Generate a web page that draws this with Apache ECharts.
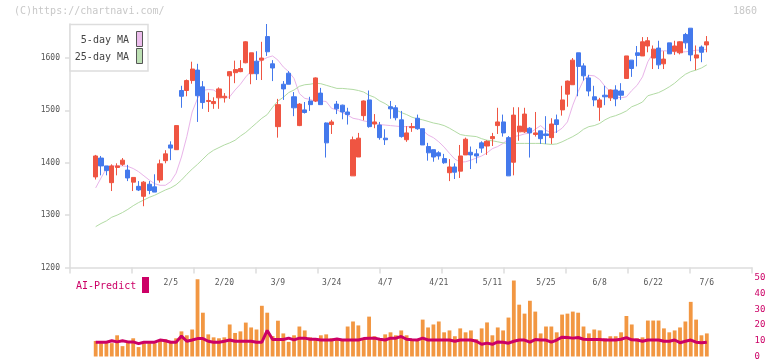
<!DOCTYPE html>
<html>
<head>
<meta charset="utf-8">
<script src="https://cdn.jsdelivr.net/npm/echarts@6/dist/echarts.min.js"></script>
<style>
  html, body { margin: 0; padding: 0; background: #fff; }
  #chart { width: 772px; height: 361px; }
</style>
</head>
<body>
<div id="chart"></div>
<script>
// 日足 (115本) 始値/終値/安値/高値
const open = [1373,1409,1394,1362,1391,1397,1386,1363,1355,1336,1359,1354,1367,1404,1434,1425,1538,1538,1557,1577,1545,1517,1513,1524,1524,1566,1572,1574,1591,1570,1594,1596,1641,1589,1469,1550,1571,1526,1471,1501,1518,1518,1533,1476,1473,1512,1510,1497,1375,1411,1490,1520,1474,1472,1447,1507,1505,1482,1444,1467,1485,1465,1431,1425,1419,1408,1381,1392,1384,1415,1420,1417,1438,1432,1446,1471,1478,1448,1401,1459,1459,1466,1454,1461,1455,1448,1482,1501,1531,1549,1610,1585,1562,1526,1506,1529,1524,1539,1537,1561,1596,1610,1604,1623,1600,1619,1589,1629,1613,1610,1645,1657,1600,1621,1625];
const close = [1413,1394,1385,1394,1394,1405,1371,1372,1348,1363,1347,1344,1398,1417,1428,1471,1527,1557,1579,1528,1515,1519,1517,1541,1527,1574,1578,1580,1631,1610,1570,1600,1612,1581,1511,1541,1550,1505,1512,1496,1511,1562,1511,1438,1478,1503,1497,1492,1444,1447,1518,1469,1478,1448,1444,1503,1486,1450,1457,1469,1465,1434,1419,1411,1413,1400,1392,1382,1413,1445,1415,1413,1428,1441,1450,1478,1457,1375,1491,1470,1493,1457,1457,1446,1452,1474,1473,1520,1556,1596,1584,1566,1537,1520,1520,1526,1539,1522,1529,1604,1580,1605,1631,1633,1617,1587,1598,1608,1623,1631,1629,1606,1606,1611,1631];
const low = [1368,1376,1376,1346,1376,1394,1365,1346,1346,1317,1340,1344,1362,1399,1405,1425,1505,1527,1551,1478,1503,1497,1503,1503,1515,1522,1552,1573,1590,1550,1558,1558,1604,1556,1448,1520,1550,1489,1470,1494,1499,1516,1511,1410,1455,1493,1483,1473,1375,1411,1481,1467,1466,1444,1434,1484,1481,1448,1440,1459,1463,1434,1404,1402,1406,1398,1365,1369,1371,1415,1388,1399,1419,1415,1432,1455,1450,1375,1376,1442,1457,1410,1450,1436,1436,1436,1457,1490,1507,1549,1527,1557,1527,1508,1480,1510,1518,1508,1520,1561,1564,1584,1604,1611,1579,1579,1579,1608,1606,1607,1618,1594,1577,1592,1611];
const high = [1415,1413,1394,1397,1399,1409,1396,1372,1365,1365,1365,1378,1406,1424,1441,1472,1547,1559,1593,1589,1556,1534,1525,1544,1533,1575,1595,1596,1632,1610,1613,1631,1665,1596,1522,1556,1575,1535,1514,1516,1526,1563,1543,1477,1482,1518,1511,1505,1450,1457,1519,1538,1493,1478,1464,1518,1510,1499,1470,1476,1492,1465,1438,1425,1422,1417,1407,1399,1434,1448,1431,1426,1441,1443,1457,1505,1492,1451,1506,1506,1505,1468,1497,1461,1489,1485,1492,1547,1557,1600,1610,1590,1568,1547,1524,1547,1540,1548,1552,1604,1596,1623,1640,1640,1624,1633,1613,1629,1633,1632,1648,1657,1624,1624,1642];

// 移動平均 (チャートから読み取り)
const ma5 = [1352,1371,1389,1394,1394,1394,1393,1389,1383,1375,1367,1360,1357,1357,1364,1380,1411,1450,1497,1523,1538,1540,1539,1532,1524,1526,1539,1550,1564,1575,1590,1596,1601,1604,1596,1583,1574,1561,1532,1523,1521,1517,1518,1517,1504,1501,1496,1491,1485,1483,1480,1478,1476,1473,1472,1471,1470,1469,1469,1469,1469,1462,1453,1448,1440,1430,1418,1407,1401,1402,1405,1409,1413,1419,1427,1431,1437,1446,1450,1452,1455,1457,1464,1471,1462,1457,1459,1466,1478,1510,1536,1558,1567,1566,1559,1546,1536,1526,1524,1526,1538,1548,1564,1593,1610,1613,1614,1613,1612,1611,1612,1613,1615,1615,1617];
const ma25 = [1278,1284,1289,1296,1300,1305,1311,1318,1324,1329,1334,1338,1343,1348,1352,1358,1367,1378,1388,1397,1407,1417,1424,1429,1434,1438,1443,1451,1458,1467,1476,1485,1492,1506,1518,1525,1534,1539,1546,1549,1550,1552,1551,1548,1545,1542,1542,1541,1540,1538,1535,1529,1525,1518,1513,1506,1501,1496,1492,1487,1484,1482,1479,1476,1474,1471,1466,1460,1454,1452,1451,1450,1446,1443,1442,1440,1438,1437,1437,1437,1437,1437,1437,1437,1436,1435,1436,1440,1445,1450,1456,1464,1469,1471,1475,1482,1487,1490,1494,1499,1507,1511,1516,1528,1531,1534,1539,1545,1552,1561,1569,1574,1577,1581,1587];

// 出来高 と AI-Predict
const volume = [9.9,8.5,8.5,8.5,13.5,6.6,9.9,11.6,6,8.5,8.5,8.5,9.9,11,9.9,11.6,16,13.5,17.2,49.2,27.9,14.1,12.2,11.6,12.2,20.4,15,16,21.6,18.5,17.2,32.3,27.9,13,22.8,14.7,9.3,13.5,19.1,16.6,12.2,11.6,13.5,14.1,11.6,11.6,11,19.1,22.3,19.8,11,25.4,12.9,11,14.1,15.4,13.5,16.6,13.5,11,10.4,23.5,18.5,20.4,22.3,15.4,16.6,12.9,17.9,15.4,16.6,11,17.9,21.7,13.5,18.5,16.6,24.8,48.4,33,27.3,35.5,28.6,14.7,19.1,19.1,15.4,26.7,27.3,28.6,27.9,19.1,14.7,17.2,16.6,11.6,12.9,12.9,15.4,25.8,20.4,11.6,12.2,22.9,22.9,22.9,17.9,15.4,16.6,18.5,22.3,34.8,23.5,13.5,14.7];
const aiPredict = [9.1,9.1,9.1,10,9.3,10,9.3,9.3,8.2,9.1,9.1,9.1,10.5,10,9.1,9.1,13,9.7,10.5,11.4,11.4,9.7,9.1,9.1,9.7,10.5,9.7,9.7,9.7,9.7,9.1,9.1,16.6,10.8,10.8,10.8,11.7,10.6,11.7,11.7,11,11,10.5,10.5,10.5,11.2,10.5,10.5,10.5,10.5,11.4,11.7,11.7,11,10.5,11.7,11.7,12.7,11,10.6,10.5,11.7,10.5,10.5,10.5,10.5,10.5,9.7,10.5,10.5,10.5,9.7,7.8,8.5,7.8,9.3,9.1,8.5,9.7,10.5,10.5,9.1,10.8,10.5,10.5,9.1,10.5,12.3,12.1,11.7,12.1,11,10.8,10.8,10.8,10.5,10.5,10.5,11,12,10.6,10.5,9.7,10.5,10.5,10.5,9.7,9.7,10.5,8.8,9.7,10.5,9.1,8.8,9.1];

// x軸ラベル
const xLabels = ['2/5','2/20','3/9','3/24','4/7','4/21','5/11','5/25','6/8','6/22','7/6'];
const xLabelIdx = [14,24,34,44,54,64,74,84,94,104,114];
const priceTicks = [1200,1300,1400,1500,1600];

const days = volume.map((v, i) => String(i));
const candles = open.map((o, i) => [o, close[i], low[i], high[i]]);

const mono = 'DejaVu Sans Mono';
const upColor = '#ef5542';
const downColor = '#4479ec';

let myChart = echarts.init(document.getElementById('chart'));

myChart.setOption({
    animation: false,
    backgroundColor: '#fff',
    grid: [
        { left: 70, right: 20, top: 24, bottom: 93.5 },   // 軸の枠
        { left: 93, right: 62.5, top: 24, bottom: 93.5 }, // ローソク足
        { left: 93, right: 62.5, top: 278, bottom: 3.5 }  // 出来高
    ],
    xAxis: [
        {
            type: 'value', gridIndex: 0, min: 0, max: 11, interval: 1,
            axisLine: { lineStyle: { color: '#dddddd', width: 1.5 } },
            axisTick: { show: true, length: 6, lineStyle: { color: '#dddddd', width: 1.5 } },
            axisLabel: { show: false },
            splitLine: { show: false }
        },
        {
            type: 'category', gridIndex: 1, data: days, boundaryGap: true,
            axisLine: { show: false },
            axisTick: { show: false },
            axisLabel: {
                interval: (idx) => xLabelIdx.indexOf(idx) >= 0,
                formatter: (v, idx) => xLabels[xLabelIdx.indexOf(idx)] || '',
                margin: 11,
                color: '#555',
                fontSize: 8,
                fontFamily: mono
            },
            splitLine: { show: false }
        },
        {
            type: 'category', gridIndex: 2, data: days, boundaryGap: true,
            show: false
        }
    ],
    yAxis: [
        {
            type: 'value', gridIndex: 0, min: 1200, max: 1665,
            axisLine: { show: true, lineStyle: { color: '#dddddd', width: 1.5 } },
            axisTick: { show: true, length: 5, customValues: priceTicks, lineStyle: { color: '#dddddd', width: 1.5 } },
            axisLabel: {
                customValues: priceTicks,
                formatter: (v) => String(v),
                color: '#555', fontSize: 8, fontFamily: mono, margin: 10
            },
            splitLine: { show: false }
        },
        {
            type: 'value', gridIndex: 1, min: 1200, max: 1665, show: false
        },
        {
            type: 'value', gridIndex: 2, min: 0, max: 50, interval: 10,
            position: 'right', offset: 43,
            axisLine: { show: false },
            axisTick: { show: false },
            axisLabel: { color: '#cc0066', fontSize: 9, fontFamily: mono, margin: 2 },
            splitLine: { show: false }
        }
    ],
    series: [
        {
            name: 'price', type: 'candlestick', xAxisIndex: 1, yAxisIndex: 1,
            data: candles, barWidth: 4.6,
            itemStyle: {
                color: upColor, color0: downColor,
                borderColor: upColor, borderColor0: downColor, borderWidth: 1
            }
        },
        {
            name: '5-day MA', type: 'line', xAxisIndex: 1, yAxisIndex: 1,
            data: ma5, showSymbol: false,
            lineStyle: { color: '#e9b4e9', width: 1 }, z: 1
        },
        {
            name: '25-day MA', type: 'line', xAxisIndex: 1, yAxisIndex: 1,
            data: ma25, showSymbol: false,
            lineStyle: { color: '#b2dba4', width: 1 }, z: 1
        },
        {
            name: 'volume', type: 'bar', xAxisIndex: 2, yAxisIndex: 2,
            data: volume, barWidth: 3.8,
            itemStyle: { color: '#f29742' }
        },
        {
            name: 'AI-Predict', type: 'line', xAxisIndex: 2, yAxisIndex: 2,
            data: aiPredict, showSymbol: false,
            lineStyle: { color: '#cc0066', width: 3 }
        }
    ],
    graphic: [
        { type: 'text', left: 14, top: 6, style: { text: '(C)https://chartnavi.com/', fill: '#c8c8c8', font: '10px "DejaVu Sans Mono"' } },
        { type: 'text', left: 733, top: 6, style: { text: '1860', fill: '#c8c8c8', font: '10px "DejaVu Sans Mono"' } },
        // MA 凡例
        { type: 'rect', shape: { x: 70, y: 24.5, width: 78, height: 46.5 }, style: { fill: '#fff', stroke: '#dddddd', lineWidth: 1.5 }, z: 10 },
        { type: 'text', x: 129, y: 40.5, style: { text: '5-day MA', fill: '#444', font: '10px "DejaVu Sans Mono"', align: 'right', verticalAlign: 'middle' }, z: 11 },
        { type: 'text', x: 129, y: 57, style: { text: '25-day MA', fill: '#444', font: '10px "DejaVu Sans Mono"', align: 'right', verticalAlign: 'middle' }, z: 11 },
        { type: 'rect', shape: { x: 136.5, y: 31.5, width: 6, height: 15 }, style: { fill: '#ecbdec', stroke: '#555', lineWidth: 1 }, z: 11 },
        { type: 'rect', shape: { x: 136.5, y: 48.5, width: 6, height: 15 }, style: { fill: '#bde0b4', stroke: '#555', lineWidth: 1 }, z: 11 },
        // AI-Predict 凡例
        { type: 'text', x: 76, y: 286, style: { text: 'AI-Predict', fill: '#cc0066', font: '10px "DejaVu Sans Mono"', verticalAlign: 'middle' }, z: 11 },
        { type: 'rect', shape: { x: 142, y: 277, width: 7, height: 16 }, style: { fill: '#cc0066' }, z: 11 }
    ]
});
</script>
</body>
</html>
